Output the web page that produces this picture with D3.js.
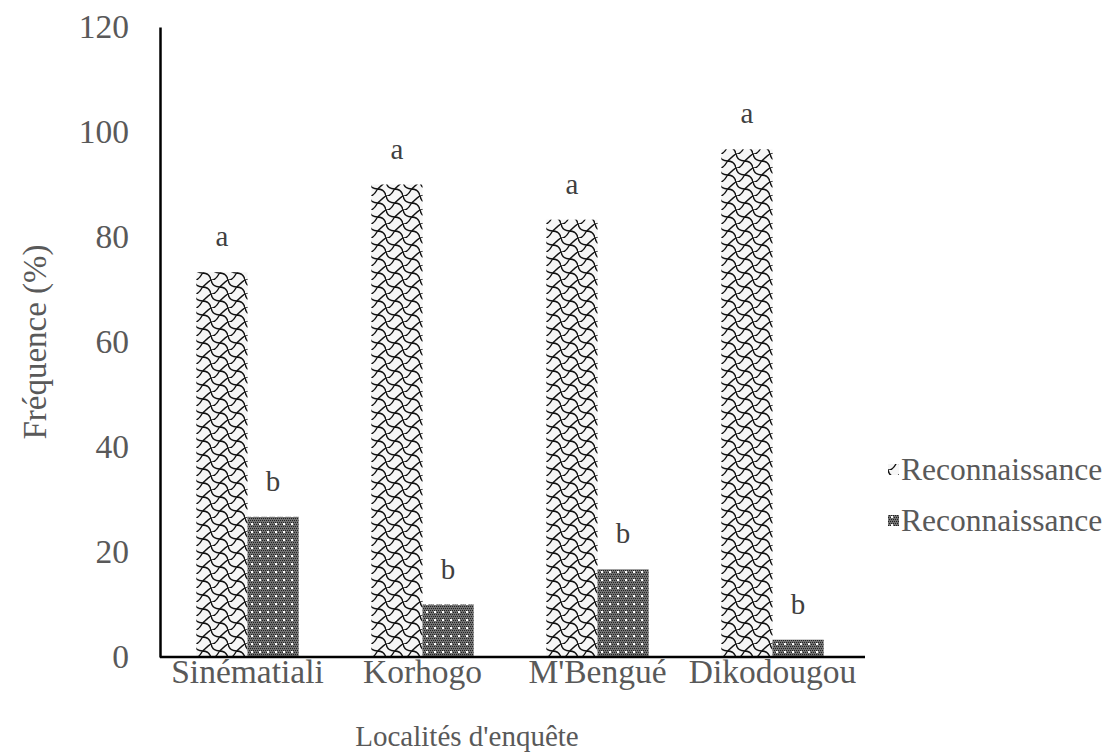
<!DOCTYPE html>
<html>
<head>
<meta charset="utf-8">
<script src="https://cdn.jsdelivr.net/npm/d3@7"></script>
<style>
  body { margin: 0; background: #fff; }
  text { font-family: "Liberation Serif", "DejaVu Serif", serif; }
</style>
</head>
<body>
<script>
const width = 1107;
const height = 756;

// data
const localites = ["Sinématiali", "Korhogo", "M'Bengué", "Dikodougou"];
const series = ["s1", "s2"];
const seriesNames = ["Reconnaissance", "Reconnaissance"];
const valuesA = [73.3, 90, 83.3, 96.7];
const valuesB = [26.7, 10, 16.7, 3.3];
const lettersA = ["a", "a", "a", "a"];
const lettersB = ["b", "b", "b", "b"];
const yTicks = [0, 20, 40, 60, 80, 100, 120];

let data = localites.map((loc, i) => ({
  loc: loc,
  bars: [
    { key: "s1", value: valuesA[i], letter: lettersA[i] },
    { key: "s2", value: valuesB[i], letter: lettersB[i] }
  ]
}));

let margin = { top: 27, right: 247, bottom: 99, left: 160 };

let svg = d3
  .select("body")
  .append("svg")
  .attr("width", width)
  .attr("height", height);

// fill patterns
let defs = svg.append("defs");

let p1 = defs
  .append("pattern")
  .attr("id", "shingle")
  .attr("patternUnits", "userSpaceOnUse")
  .attr("width", 17)
  .attr("height", 14);
p1.append("rect").attr("width", 17).attr("height", 14).attr("fill", "#f6f6f6");
p1.append("path")
  .attr("d", "M0,0 C1,5 4,7 8.5,7 C13,7 16,9 17,14 M8.5,7 C7,10 5,13 2,14 M17,0 C15,1 12,4 8.5,7 M2,14 C1,14 0,14 0,14")
  .attr("fill", "none")
  .attr("stroke", "#111")
  .attr("stroke-width", 1.5);

let p2 = defs
  .append("pattern")
  .attr("id", "dots")
  .attr("patternUnits", "userSpaceOnUse")
  .attr("width", 8)
  .attr("height", 8);
p2.append("rect").attr("width", 8).attr("height", 8).attr("fill", "#737373");
for (let i = 0; i < 8; i += 2) {
  for (let j = 0; j < 8; j += 2) {
    p2.append("rect")
      .attr("x", i + ((j / 2) % 2))
      .attr("y", j)
      .attr("width", 1)
      .attr("height", 1)
      .attr("fill", "#222");
  }
}
p2.append("rect").attr("x", 3).attr("y", 3).attr("width", 2).attr("height", 2).attr("fill", "#fff");

let xScale = d3
  .scaleBand()
  .domain(localites)
  .range([margin.left, width - margin.right])
  .paddingInner(0)
  .paddingOuter(0);

let xSub = d3
  .scaleBand()
  .domain(series)
  .range([0, xScale.bandwidth()])
  .paddingInner(0)
  .paddingOuter(0.71);

let yScale = d3
  .scaleLinear()
  .domain([0, 120])
  .range([height - margin.bottom, margin.top]);

let fills = { s1: "url(#shingle)", s2: "url(#dots)" };

// bars
let groups = svg
  .selectAll("g.loc")
  .data(data)
  .join("g")
  .attr("class", "loc")
  .attr("transform", (d) => `translate(${xScale(d.loc)},0)`);

groups
  .selectAll("rect")
  .data((d) => d.bars)
  .join("rect")
  .attr("x", (d) => xSub(d.key))
  .attr("y", (d) => yScale(d.value))
  .attr("width", xSub.bandwidth())
  .attr("height", (d) => yScale(0) - yScale(d.value))
  .attr("fill", (d) => fills[d.key]);

groups
  .selectAll("text")
  .data((d) => d.bars)
  .join("text")
  .attr("x", (d) => xSub(d.key) + xSub.bandwidth() / 2)
  .attr("y", (d) => yScale(d.value) - 26)
  .attr("text-anchor", "middle")
  .style("font-size", "29px")
  .attr("fill", "#404040")
  .text((d) => d.letter);

// axes
let leftAxis = d3.axisLeft(yScale).tickValues(yTicks).tickSize(0).tickPadding(31);
let bottomAxis = d3.axisBottom(xScale).tickSize(0).tickPadding(2);

let leftContainer = svg
  .append("g")
  .attr("transform", `translate(${margin.left},0)`)
  .call(leftAxis);

let bottomContainer = svg
  .append("g")
  .attr("transform", `translate(0,${yScale(0)})`)
  .call(bottomAxis);

[leftContainer, bottomContainer].forEach((c) => {
  c.selectAll("text")
    .style("font-family", "'Liberation Serif', serif")
    .style("font-size", "33.5px")
    .attr("fill", "#595959");
  c.select(".domain").attr("stroke", "#000").attr("stroke-width", 2.5);
});
bottomContainer.select(".domain").attr("d", `M${margin.left},0H${width - margin.right + 5}`);

// axis titles
svg.append("text")
  .attr("x", 467)
  .attr("y", 746)
  .attr("text-anchor", "middle")
  .style("font-size", "29px")
  .attr("fill", "#595959")
  .text("Localités d'enquête");

svg.append("text")
  .attr("transform", `translate(46,${342}) rotate(-90)`)
  .attr("text-anchor", "middle")
  .style("font-size", "33px")
  .attr("fill", "#595959")
  .text("Fréquence (%)");

// legend
let legend = svg
  .selectAll("g.legend")
  .data(series)
  .join("g")
  .attr("class", "legend")
  .attr("transform", (d, i) => `translate(888,${470 + i * 51})`);

legend.append("rect")
  .attr("x", 0)
  .attr("y", -6)
  .attr("width", 11)
  .attr("height", 11)
  .attr("fill", (d) => fills[d]);

legend.append("text")
  .attr("x", 13)
  .attr("y", 10)
  .style("font-size", "31.5px")
  .attr("fill", "#595959")
  .text((d, i) => seriesNames[i]);
</script>
</body>
</html>
